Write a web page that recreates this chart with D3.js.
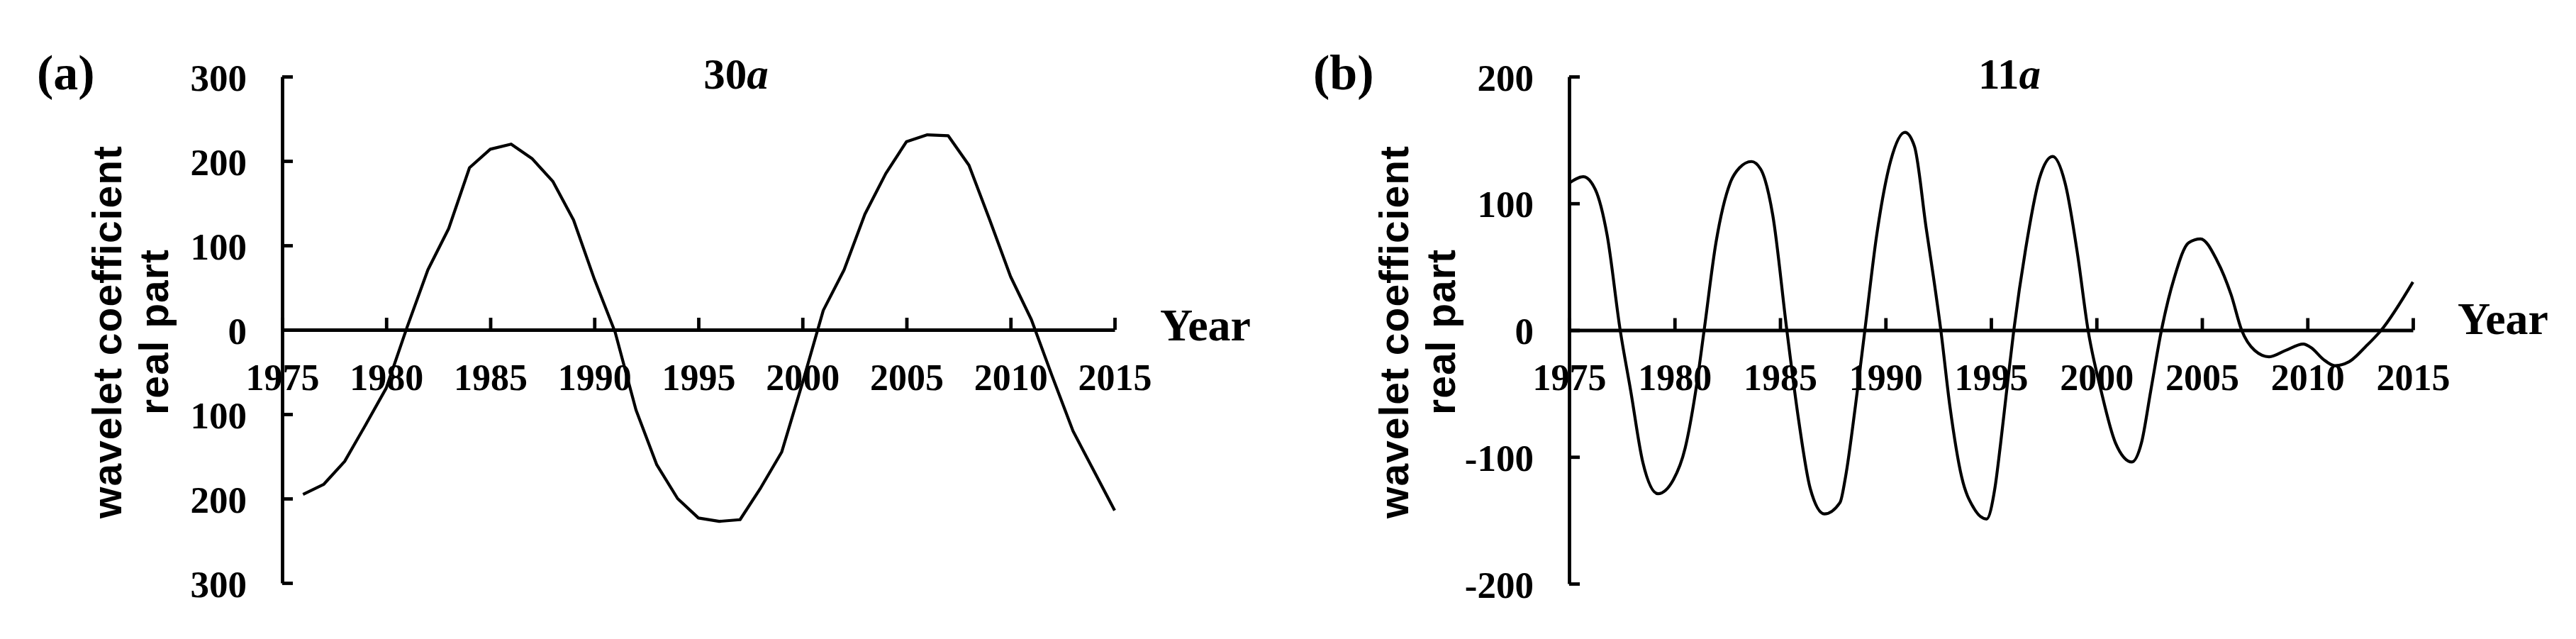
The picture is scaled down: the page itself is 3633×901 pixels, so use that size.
<!DOCTYPE html>
<html>
<head>
<meta charset="utf-8">
<script src="https://cdn.jsdelivr.net/npm/d3@7"></script>
<style>
  html, body { margin: 0; padding: 0; background: #fff; }
  svg { display: block; }
</style>
</head>
<body>
<script>
// ---------------- DATA ----------------
// Panel (a): 30a period, annual values
const yearsA = [1976,1977,1978,1979,1980,1981,1982,1983,1984,1985,1986,1987,1988,1989,1990,
                1991,1992,1993,1994,1995,1996,1997,1998,1999,2000,2001,2002,2003,2004,2005,
                2006,2007,2008,2009,2010,2011,2012,2013,2014,2015];
const valuesA = [-195,-183,-156,-113,-69,3,71,120,192,214,220,203,176,130,60,
                 -3,-95,-160,-200,-223,-227,-225,-187,-145,-63,23,71,137,185,223,
                 231,230,195,130,63,12,-55,-120,-167,-214];

// Panel (b): 11a period
const yearsB = [1975.0,1975.67,1976.24,1976.8,1977.42,1977.92,1978.49,1979.21,1979.94,1980.5,
                1981.0,1981.4,1981.96,1982.63,1983.07,1983.64,1984.08,1984.65,1985.32,1985.88,
                1986.43,1987.1,1987.84,1988.1,1988.57,1989.02,1989.58,1990.25,1990.92,1991.37,
                1991.93,1992.27,1992.62,1993.05,1993.61,1994.17,1994.79,1995.18,1995.45,1995.74,
                1996.08,1996.64,1997.3,1997.92,1998.54,1999.1,1999.6,2000.22,2000.9,2001.68,
                2002.13,2002.57,2003.08,2003.7,2004.37,2004.93,2005.71,2006.38,2006.88,2007.5,
                2008.18,2008.96,2009.8,2010.19,2010.75,2011.3,2011.97,2012.76,2013.5,2015.0];
const valuesB = [116,121,111,75,0,-48,-104,-129,-118,-93,
                 -48,0,69,116,128,133,127,91,0,-71,
                 -125,-145,-136,-116,-60,0,75,134,156,145,
                 80,42,0,-60,-116,-140,-149,-125,-90,-48,
                 0,64,120,137,114,60,0,-48,-89,-104,
                 -89,-48,0,42,69,72,55,28,0,-16,
                 -21,-16,-11,-14,-23,-28,-25,-13,0,38];

// Tick values / labels
const xTicks = [1975,1980,1985,1990,1995,2000,2005,2010,2015];
const yTicksA = [300,200,100,0,-100,-200,-300];
const yLabelsA = ["300","200","100","0","100","200","300"];
const yTicksB = [200,100,0,-100,-200];
const yLabelsB = ["200","100","0","-100","-200"];

const panelLetters = ["(a)","(b)"];
const titleNums = ["30","11"];
const yTitleLines = ["wavelet coefficient","real part"];
const xTitle = "Year";

// ---------------- DRAW ----------------
const W = 3633, H = 901;
const svg = d3.select("body").append("svg")
  .attr("width", W).attr("height", H)
  .attr("viewBox", `0 0 ${W} ${H}`);
svg.append("rect").attr("width", W).attr("height", H).attr("fill", "#fff");

const serif = "'Liberation Serif','Times New Roman',serif";
const sans = "'Liberation Sans',Arial,sans-serif";

const panels = [
  { x0: 398, x1: 1572, yTop: 108, yBot: 822, dom: [-300,300],
    yTicks: yTicksA, yLabels: yLabelsA, years: yearsA, vals: valuesA, curve: d3.curveLinear,
    letterX: 52, titleX: 1038, yearX: 1636, yearY: 480 },
  { x0: 2213, x1: 3403, yTop: 108, yBot: 823, dom: [-200,200],
    yTicks: yTicksB, yLabels: yLabelsB, years: yearsB, vals: valuesB, curve: d3.curveMonotoneX,
    letterX: 1852, titleX: 2834, yearX: 3466, yearY: 471 }
];

panels.forEach((p, i) => {
  const x = d3.scaleLinear().domain([1975, 2015]).range([p.x0, p.x1]);
  const y = d3.scaleLinear().domain(p.dom).range([p.yBot, p.yTop]);
  const g = svg.append("g");

  // Y axis
  const yAxis = d3.axisLeft(y)
    .tickValues(p.yTicks)
    .tickFormat((d, k) => p.yLabels[k])
    .tickSizeInner(-15).tickSizeOuter(0).tickPadding(50);
  const ya = g.append("g").attr("transform", `translate(${p.x0},0)`).call(yAxis);
  ya.select(".domain").attr("stroke", "#000").attr("stroke-width", 4.8);
  ya.selectAll(".tick line").attr("stroke", "#000").attr("stroke-width", 4.8);
  ya.selectAll(".tick text")
    .attr("font-family", serif).attr("font-weight", "bold")
    .attr("font-size", 53).attr("fill", "#000").attr("dy", "0.36em");

  // X axis (at zero)
  const xAxis = d3.axisBottom(x)
    .tickValues(xTicks)
    .tickFormat(d3.format("d"))
    .tickSizeInner(-17).tickSizeOuter(0).tickPadding(48);
  const xa = g.append("g").attr("transform", `translate(0,${y(0)})`).call(xAxis);
  xa.select(".domain").attr("stroke", "#000").attr("stroke-width", 4.8);
  xa.selectAll(".tick line").attr("stroke", "#000").attr("stroke-width", 4.8);
  xa.selectAll(".tick text")
    .attr("font-family", serif).attr("font-weight", "bold")
    .attr("font-size", 52).attr("fill", "#000");

  // Data line
  const line = d3.line().x((d, k) => x(p.years[k])).y(d => y(d)).curve(p.curve);
  g.append("path").datum(p.vals)
    .attr("d", line)
    .attr("fill", "none").attr("stroke", "#000").attr("stroke-width", 4.2)
    .attr("stroke-linejoin", "round");

  // Panel letter
  g.append("text").attr("x", p.letterX).attr("y", 126)
    .attr("font-family", serif).attr("font-weight", "bold").attr("font-size", 70)
    .text(panelLetters[i]);

  // Title "30a" / "11a"
  const t = g.append("text").attr("x", p.titleX).attr("y", 125)
    .attr("text-anchor", "middle")
    .attr("font-family", serif).attr("font-weight", "bold").attr("font-size", 61);
  t.append("tspan").text(titleNums[i]);
  t.append("tspan").attr("font-style", "italic").text("a");

  // Year label
  g.append("text").attr("x", p.yearX).attr("y", p.yearY)
    .attr("font-family", serif).attr("font-weight", "bold").attr("font-size", 64)
    .text(xTitle);

  // Y axis title (two lines, rotated)
  const cy = 468;
  yTitleLines.forEach((s, k) => {
    const cx = p.x0 - 248 + k * 66;
    g.append("text")
      .attr("transform", `translate(${cx},${cy}) rotate(-90)`)
      .attr("text-anchor", "middle").attr("dy", "0.36em")
      .attr("font-family", sans).attr("font-weight", "bold").attr("font-size", 57)
      .attr("letter-spacing", 1)
      .text(s);
  });
});
</script>
</body>
</html>
